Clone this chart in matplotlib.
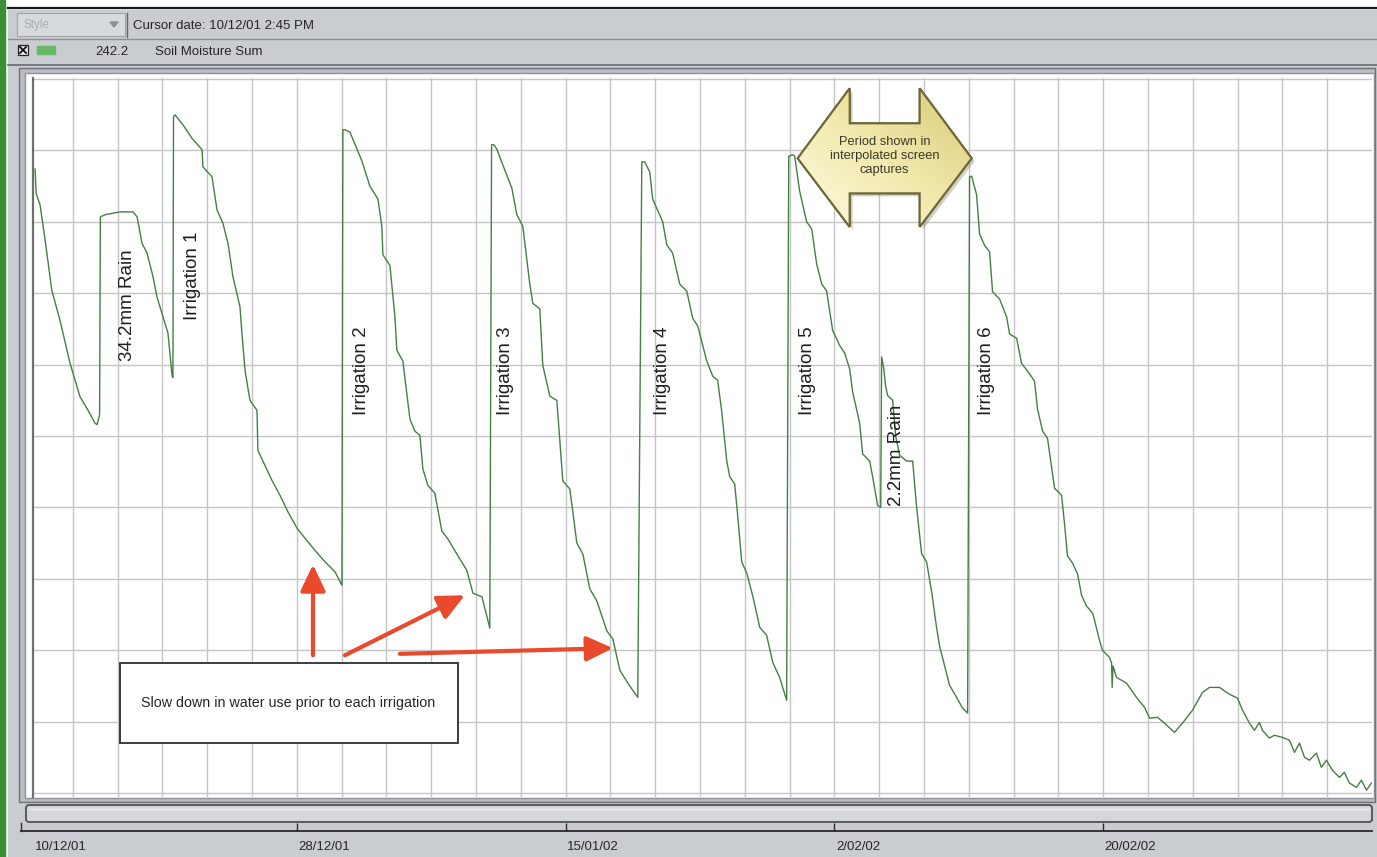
import matplotlib
matplotlib.use('Agg')
import matplotlib.pyplot as plt
import numpy as np
from matplotlib.patches import Rectangle, Polygon, FancyBboxPatch
from matplotlib.colors import LinearSegmentedColormap
import matplotlib.transforms as mtransforms
from datetime import datetime

plt.rcParams['font.family'] = ['Liberation Sans', 'DejaVu Sans']

# ---------------- data (days since 10/12/01 00:00, soil moisture sum in mm) -------------
START = datetime(2001, 12, 10)

days_start = [0.47, 0.54, 0.80, 1.14, 1.59, 2.14, 2.81, 3.48, 4.02, 4.48, 4.62, 4.79]
mm_start = [242.4, 239.0, 237.4, 232.5, 225.4, 221.2, 215.2, 210.5, 208.6, 206.8, 206.6, 208.0]

days_rain1 = [4.84, 5.15, 6.16, 7.03, 7.30, 7.63, 7.97, 8.37, 8.63, 9.04, 9.37, 9.50, 9.64, 9.70]
mm_rain1 = [235.7, 236.0, 236.4, 236.4, 235.7, 232.0, 230.6, 227.3, 224.5, 221.7, 219.4, 216.6, 213.5, 213.2]

days_irr1 = [9.74, 9.84, 10.37, 10.98, 11.65, 11.71, 12.32, 12.65, 13.05, 13.39, 13.72, 14.19, 14.32,
             14.53, 14.86, 15.33, 15.39, 15.86, 16.33, 16.87, 17.40, 18.01, 18.54, 19.21, 19.88, 20.55, 21.02]
mm_irr1 = [249.7, 250.0, 248.6, 246.7, 245.1, 242.7, 241.3, 236.7, 234.8, 232.0, 227.3, 223.1, 219.4,
           214.2, 210.0, 208.6, 203.0, 200.9, 198.8, 196.7, 194.4, 192.1, 190.7, 189.0, 187.4, 186.0, 184.1]

days_irr2 = [21.08, 21.22, 21.55, 22.36, 22.89, 23.43, 23.69, 23.76, 24.23, 24.56, 24.70, 25.10, 25.57,
             25.90, 26.24, 26.44, 26.77, 27.24, 27.71, 28.11, 28.71, 29.38, 29.79, 30.39, 30.72, 30.92]
mm_irr2 = [247.9, 247.9, 247.6, 243.5, 240.0, 238.2, 234.4, 230.4, 228.9, 221.9, 217.0, 215.5, 207.4,
           205.7, 205.1, 200.4, 198.1, 197.0, 191.7, 190.6, 188.5, 186.2, 183.0, 182.5, 179.8, 178.1]

days_irr3 = [31.04, 31.19, 31.39, 31.79, 32.40, 32.73, 33.13, 33.60, 33.80, 34.27, 34.47, 34.94, 35.41,
             35.81, 36.28, 36.75, 37.15, 37.62, 38.09, 38.76, 39.16, 39.63, 40.29, 40.83]
mm_irr3 = [245.8, 245.8, 245.2, 243.0, 239.7, 236.0, 234.4, 226.3, 223.6, 222.8, 214.9, 210.6, 210.0,
           198.7, 197.6, 190.0, 188.5, 183.6, 181.9, 177.7, 176.6, 172.2, 170.0, 168.4]

days_irr4 = [41.10, 41.30, 41.63, 41.83, 42.50, 42.77, 43.17, 43.64, 44.11, 44.51, 44.85, 45.45, 45.85,
             46.18, 46.45, 46.79, 46.99, 47.32, 47.52, 47.79, 48.13, 48.53, 49.00, 49.46, 49.87, 50.33, 50.80]
mm_irr4 = [243.4, 243.4, 242.0, 238.2, 235.0, 231.8, 230.6, 226.3, 225.3, 221.5, 220.4, 215.5, 213.4,
           212.8, 208.5, 201.5, 199.3, 198.3, 193.9, 187.4, 185.8, 182.6, 178.2, 177.1, 173.3, 171.2, 168.0]

days_irr5 = [50.94, 51.20, 51.34, 51.67, 52.14, 52.48, 52.81, 53.15, 53.48, 53.88, 54.35, 54.69, 55.02,
             55.22, 55.69, 55.89, 56.36, 56.56, 56.89, 57.10]
mm_irr5 = [244.2, 244.4, 244.2, 239.3, 235.0, 234.0, 229.1, 226.3, 225.3, 219.8, 217.7, 216.6, 214.4,
           211.2, 206.8, 202.5, 201.5, 199.3, 195.3, 195.0]

days_rain2 = [57.16, 57.30, 57.43, 57.56, 57.90, 58.10, 58.37, 58.84, 59.24, 59.50, 59.84, 60.17, 60.51,
              60.84, 61.04, 61.38, 61.71, 62.18, 62.58, 62.92]
mm_rain2 = [216.1, 214.5, 212.0, 210.7, 210.0, 205.0, 202.3, 201.5, 201.5, 195.1, 188.5, 187.4, 183.2,
            178.2, 175.6, 172.8, 170.1, 168.4, 166.9, 166.2]

days_irr6 = [63.05, 63.19, 63.52, 63.72, 64.06, 64.39, 64.59, 65.06, 65.53, 65.73, 66.20, 66.53, 67.07,
             67.40, 67.60, 67.94, 68.27, 68.54, 68.74, 69.21, 69.41, 69.61, 69.95, 70.28, 70.55, 70.88,
             71.29, 71.42, 71.75, 71.95, 72.42, 72.56, 72.60, 72.66, 72.89]
mm_irr6 = [241.3, 241.4, 238.8, 233.3, 231.7, 230.8, 225.2, 224.2, 221.7, 219.3, 218.7, 215.2, 213.7,
           212.7, 208.8, 205.7, 204.7, 200.7, 197.7, 196.7, 192.7, 188.2, 187.2, 185.7, 182.7, 181.2,
           180.2, 179.2, 176.4, 175.0, 174.0, 173.2, 169.8, 172.8, 171.2]

days_tail = [73.56, 74.23, 74.77, 75.10, 75.64, 76.10, 76.77, 77.31, 77.98, 78.65, 79.12, 79.79, 80.25,
             80.59, 80.99, 81.33, 81.79, 82.13, 82.46, 82.66, 83.13, 83.47, 84.00, 84.47, 84.81, 85.14,
             85.48, 85.81, 86.28, 86.61, 86.95, 87.35, 87.82, 88.15, 88.49, 88.96, 89.29, 89.63, 89.96]
mm_tail = [170.4, 168.4, 167.0, 165.5, 165.6, 164.8, 163.5, 164.8, 166.6, 169.1, 169.8, 169.8, 169.1,
           168.7, 168.3, 166.6, 164.8, 163.8, 164.9, 163.8, 162.7, 163.1, 162.8, 162.4, 160.7, 162.0,
           160.0, 159.6, 160.6, 158.6, 159.6, 158.2, 157.2, 157.9, 156.4, 155.8, 156.8, 155.4, 156.4]

days = (days_start + days_rain1 + days_irr1 + days_irr2 + days_irr3 + days_irr4 +
        days_irr5 + days_rain2 + days_irr6 + days_tail)
moisture = (mm_start + mm_rain1 + mm_irr1 + mm_irr2 + mm_irr3 + mm_irr4 +
            mm_irr5 + mm_rain2 + mm_irr6 + mm_tail)

date_labels = ['10/12/01', '28/12/01', '15/01/02', '2/02/02', '20/02/02']

event_labels = ['34.2mm Rain', 'Irrigation 1', 'Irrigation 2', 'Irrigation 3',
                'Irrigation 4', 'Irrigation 5', '2.2mm Rain', 'Irrigation 6']
event_days = [6.69, 10.98, 22.36, 32.0, 42.5, 52.2, 58.17, 64.19]
event_mm = [223.3, 227.5, 214.2, 214.2, 214.2, 214.2, 202.3, 214.2]

cursor_text = 'Cursor date: 10/12/01 2:45 PM'
series_value = '242.2'
series_name = 'Soil Moisture Sum'
note_text = 'Slow down in water use prior to each irrigation'
callout_text = 'Period shown in\ninterpolated screen\ncaptures'

# ---------------- layout -------------
W, H = 1377, 857
PANEL = '#c9cdd1'
LINE_GREEN = '#447f44'
ARROW_RED = '#ea4a2b'

fig = plt.figure(figsize=(W / 100, H / 100), dpi=100)
fig.patch.set_facecolor('white')


def fx(px):
    return px / W


def fy(py):
    return 1 - py / H


# background "window" drawn in pixel coordinates
bg = fig.add_axes([0, 0, 1, 1], zorder=0)
bg.set_xlim(0, W)
bg.set_ylim(H, 0)
bg.axis('off')

bg.add_patch(Rectangle((0, 0), 5, H, color='#3b8d36'))
bg.plot([8, W], [8, 8], color='#1a1a1a', lw=1.6)
bg.add_patch(Rectangle((8, 10), W - 8, H - 10, color=PANEL))

# toolbar row
bg.add_patch(Rectangle((17, 13), 108, 23, facecolor='#d7dadd', edgecolor='#a3a7ab', lw=0.8))
bg.text(24, 25, 'Style', color='#a9adb1', fontsize=8.5, va='center')
bg.add_patch(Polygon([[110, 22], [118, 22], [114, 27]], closed=True, color='#8c9094'))
bg.plot([127, 127], [13, 37], color='#5f6368', lw=1.0)
bg.text(133, 25.5, cursor_text, fontsize=9.5, color='#262626', va='center')
bg.plot([8, W], [38.5, 38.5], color='#8c9095', lw=1.0)

# legend row
bg.add_patch(Rectangle((18, 45), 10, 10, facecolor='#e8e8e8', edgecolor='#222222', lw=0.9))
bg.plot([20, 26], [47, 53], color='#111111', lw=1.3)
bg.plot([20, 26], [53, 47], color='#111111', lw=1.3)
bg.add_patch(Rectangle((37, 46), 18, 8, color='#66b866'))
bg.text(128, 51.5, series_value, fontsize=9.5, color='#262626', va='center', ha='right')
bg.text(155, 51.5, series_name, fontsize=9.5, color='#262626', va='center')
bg.plot([8, W], [64.5, 64.5], color='#6f7378', lw=1.3)

# chart frame
bg.add_patch(Rectangle((19, 68), W - 21, 734, facecolor='#b9bdc2', edgecolor='#6d7176', lw=1.0))
bg.add_patch(Rectangle((25, 73), W - 28, 725, facecolor='white', edgecolor='#8e9297', lw=1.0))

# scrollbar
bg.add_patch(FancyBboxPatch((26, 805), 1346, 17, boxstyle='round,pad=0,rounding_size=3',
                            facecolor='#d4d7da', edgecolor='#4d5155', lw=1.3))
bg.plot([29, 1369], [809, 809], color='#eef0f2', lw=1.0)

# date ruler line
bg.plot([21, 1372], [831, 831], color='#2a2a2a', lw=1.3)
bg.plot([21, 21], [823, 831], color='#2a2a2a', lw=1.0)

# ---------------- main chart -------------
X0, X1 = 0.33, 90.0
Y0, Y1 = 154.45, 255.15
ax = fig.add_axes([fx(33), fy(797), fx(1372) - fx(33), fy(78) - fy(797)], zorder=2)
ax.set_facecolor('white')
for s in ['top', 'right', 'bottom']:
    ax.spines[s].set_visible(False)
ax.spines['left'].set_color('#6f6f6f')
ax.spines['left'].set_linewidth(1.6)

ax.set_xticks(np.arange(3, 90, 3))
ax.set_yticks(np.arange(155, 256, 10))
ax.tick_params(length=0, labelbottom=False, labelleft=False)
ax.grid(True, color='#c4c4c4', lw=1.0, ls='-')
ax.set_axisbelow(True)

ax.plot(days, moisture, color=LINE_GREEN, lw=1.0, zorder=3)

for lab, d, v in zip(event_labels, event_days, event_mm):
    ax.text(d, v, lab, rotation=90, ha='center', va='center', fontsize=13.5, color='#1e1e1e', zorder=4)

# note box and arrows
ax.add_patch(Rectangle((6.16, 162.0), 22.62, 11.2, facecolor='white', edgecolor='#3c3c3c',
                       lw=1.4, zorder=5))
ax.text(17.4, 167.6, note_text, ha='center', va='center', fontsize=10.3, color='#262626', zorder=6)

arrow_kw = dict(arrowstyle='-|>,head_length=0.8,head_width=0.38', color=ARROW_RED, lw=3.0,
                mutation_scale=20, shrinkA=0, shrinkB=0)
for tail, tip in [((19.08, 174.3), (19.08, 187.0)),
                  ((21.22, 174.3), (29.25, 182.7)),
                  ((24.90, 174.5), (39.16, 175.3))]:
    ax.annotate('', xy=tip, xytext=tail, arrowprops=arrow_kw, zorder=6)

# double headed callout
cx = [51.54, 55.02, 55.02, 59.71, 59.71, 63.19, 59.71, 59.71, 55.02, 55.02]
cy = [243.9, 253.7, 248.8, 248.8, 253.7, 243.9, 234.3, 239.0, 239.0, 234.3]
pts = np.column_stack([cx, cy])
shadow = Polygon(pts, closed=True, facecolor='#7a7a6a', alpha=0.35, edgecolor='none', zorder=6,
                 transform=ax.transData + mtransforms.ScaledTranslation(3 / 100, -3 / 100, fig.dpi_scale_trans))
ax.add_patch(shadow)
poly = Polygon(pts, closed=True, facecolor='#f3ecb4', edgecolor='#6e6838', lw=1.5, zorder=7)
ax.add_patch(poly)
grad = np.linspace(0, 1, 200).reshape(1, -1) * 0.5 + np.linspace(0, 1, 200).reshape(-1, 1) * 0.5
cmap = LinearSegmentedColormap.from_list('cal', ['#fdfbe2', '#f1e9ac', '#d8c978'])
im = ax.imshow(grad, extent=[51.54, 63.19, 253.7, 234.3], cmap=cmap, aspect='auto', zorder=7.1,
               interpolation='bilinear')
im.set_clip_path(poly)
edge = Polygon(pts, closed=True, facecolor='none', edgecolor='#6e6838', lw=1.5, zorder=7.2)
ax.add_patch(edge)
ax.text(57.36, 244.2, callout_text, ha='center', va='center', fontsize=9.3, color='#3a3a2a',
        linespacing=1.25, zorder=8)

ax.set_xlim(X0, X1)
ax.set_ylim(Y0, Y1)

# ---------------- date ruler -------------
axd = fig.add_axes([fx(33), 0, fx(1372) - fx(33), fy(831)], zorder=1)
axd.set_facecolor('none')
for s in axd.spines.values():
    s.set_visible(False)
axd.set_xlim(X0, X1)
axd.set_ylim(0, 1)
axd.set_yticks([])
tick_days = [(datetime.strptime(l, '%d/%m/%y') - START).days for l in date_labels]
axd.set_xticks([d for d in tick_days if d > X0])
axd.tick_params(axis='x', top=True, bottom=False, labelbottom=False, labeltop=False,
                direction='out', length=6, width=1.0, color='#2a2a2a')
for lab, d in zip(date_labels, tick_days):
    axd.text(max(d, X0) + 0.1, 0.38, lab, ha='left', va='center', fontsize=9.5, color='#262626')

fig.savefig('out.png', dpi=100, facecolor=fig.get_facecolor())
